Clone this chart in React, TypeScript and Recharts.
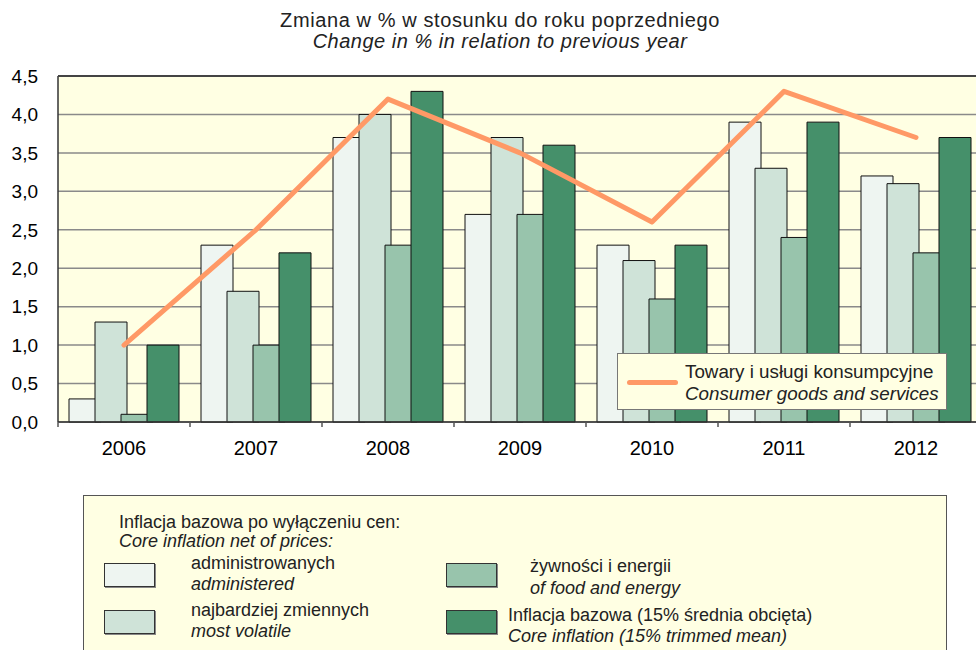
import React from 'react';
import { ComposedChart, Bar, Line, XAxis, YAxis, CartesianGrid } from 'recharts';

const years = ['2006', '2007', '2008', '2009', '2010', '2011', '2012'];
const administered = [0.3, 2.3, 3.7, 2.7, 2.3, 3.9, 3.2];
const mostVolatile = [1.3, 1.7, 4.0, 3.7, 2.1, 3.3, 3.1];
const foodEnergy = [0.1, 1.0, 2.3, 2.7, 1.6, 2.4, 2.2];
const trimmedMean = [1.0, 2.2, 4.3, 3.6, 2.3, 3.9, 3.7];
const consumer = [1.0, 2.5, 4.2, 3.5, 2.6, 4.3, 3.7];
const yTicks = [0, 0.5, 1, 1.5, 2, 2.5, 3, 3.5, 4, 4.5];

const data = years.map((y, i) => ({
  year: y,
  adm: administered[i],
  vol: mostVolatile[i],
  food: foodEnergy[i],
  core: trimmedMean[i],
  cpi: consumer[i],
}));

const C1 = '#EEF5F1';
const C2 = '#CFE3D8';
const C3 = '#98C4AC';
const C4 = '#45906A';
const ORANGE = '#FF9966';
const BG = '#FFFFE3';
const FONT = '"Liberation Sans", Arial, sans-serif';

const XTick = (props: any) => {
  const { x, y, payload } = props;
  return (
    <g>
      <line x1={x - 66} x2={x - 66} y1={y} y2={y + 5} stroke="#555" strokeWidth={1.5} />
      <text x={x} y={y + 33} textAnchor="middle" fontSize={20} fill="#000" fontFamily={FONT}>
        {payload.value}
      </text>
    </g>
  );
};

const Swatch = ({ left, top, color }: { left: number; top: number; color: string }) => (
  <div
    style={{
      position: 'absolute',
      left,
      top,
      width: 51,
      height: 24,
      background: color,
      border: '1px solid #333',
      boxSizing: 'border-box',
      boxShadow: '1px 1px 0 #888',
    }}
  />
);

const Txt = ({ left, cy, children, italic, size = 18 }: any) => (
  <div
    style={{
      position: 'absolute',
      left,
      top: cy - 12,
      fontSize: size,
      lineHeight: '24px',
      fontFamily: FONT,
      fontStyle: italic ? 'italic' : 'normal',
      color: '#222',
      whiteSpace: 'nowrap',
    }}
  >
    {children}
  </div>
);

export default function App() {
  return (
    <div
      style={{
        position: 'absolute',
        left: 0,
        top: 0,
        width: 976,
        height: 650,
        overflow: 'hidden',
        background: '#fff',
        fontFamily: FONT,
      }}
    >
      <div style={{ position: 'absolute', left: 12, top: 19.5 - 12, width: 976, textAlign: 'center', fontSize: 20, lineHeight: '24px', letterSpacing: 0.6, color: '#222' }}>
        Zmiana w % w stosunku do roku poprzedniego
      </div>
      <div style={{ position: 'absolute', left: 12, top: 41 - 12, width: 976, textAlign: 'center', fontSize: 20, lineHeight: '24px', letterSpacing: 0.5, fontStyle: 'italic', color: '#222' }}>
        Change in % in relation to previous year
      </div>

      <div style={{ position: 'absolute', left: 0, top: 0 }}>
        <ComposedChart
          width={990}
          height={470}
          data={data}
          margin={{ top: 76, right: 8, left: 0, bottom: 0 }}
          barSize={32}
          barGap={-6}
        >
          <CartesianGrid horizontal vertical={false} fill={BG} stroke="#8a8a8a" strokeWidth={1.5} />
          <XAxis
            dataKey="year"
            axisLine={{ stroke: '#333', strokeWidth: 1.5 }}
            tickLine={false}
            tickSize={0}
            tickMargin={0}
            height={48}
            tick={<XTick />}
            interval={0}
          />
          <YAxis
            domain={[0, 4.5]}
            ticks={yTicks}
            width={58}
            axisLine={{ stroke: '#333', strokeWidth: 1.5 }}
            tickLine={false}
            tickSize={0}
            tickMargin={20}
            tickFormatter={(v: number) => v.toFixed(1).replace('.', ',')}
            tick={{ fontSize: 19, fill: '#000', fontFamily: FONT }}
          />
          <Bar dataKey="adm" fill={C1} stroke="#111" strokeWidth={1} isAnimationActive={false} />
          <Bar dataKey="vol" fill={C2} stroke="#111" strokeWidth={1} isAnimationActive={false} />
          <Bar dataKey="food" fill={C3} stroke="#111" strokeWidth={1} isAnimationActive={false} />
          <Bar dataKey="core" fill={C4} stroke="#111" strokeWidth={1} isAnimationActive={false} />
          <Line
            dataKey="cpi"
            type="linear"
            stroke={ORANGE}
            strokeWidth={5}
            dot={false}
            activeDot={false}
            strokeLinecap="round"
            strokeLinejoin="round"
            isAnimationActive={false}
          />
        </ComposedChart>
      </div>
      {/* top border of plot */}
      <div style={{ position: 'absolute', left: 58, top: 75, width: 930, height: 2, background: '#444' }} />

      {/* line legend */}
      <div
        style={{
          position: 'absolute',
          left: 617,
          top: 353,
          width: 330,
          height: 57,
          background: BG,
          border: '1.5px solid #777',
          boxSizing: 'border-box',
        }}
      />
      <div style={{ position: 'absolute', left: 627, top: 380, width: 51, height: 5, borderRadius: 3, background: ORANGE }} />
      <Txt left={685} cy={372} size={18.8}>Towary i usługi konsumpcyjne</Txt>
      <Txt left={685} cy={394} size={18.8} italic>Consumer goods and services</Txt>

      {/* bottom legend */}
      <div
        style={{
          position: 'absolute',
          left: 83,
          top: 495,
          width: 864,
          height: 180,
          background: BG,
          border: '1.5px solid #555',
          boxSizing: 'border-box',
        }}
      />
      <Txt left={119} cy={522}>Inflacja bazowa po wyłączeniu cen:</Txt>
      <Txt left={119} cy={541} italic>Core inflation net of prices:</Txt>
      <Swatch left={104} top={563} color={C1} />
      <Txt left={191} cy={563}>administrowanych</Txt>
      <Txt left={191} cy={584} italic>administered</Txt>
      <Swatch left={104} top={610} color={C2} />
      <Txt left={191} cy={610}>najbardziej zmiennych</Txt>
      <Txt left={191} cy={631} italic>most volatile</Txt>
      <Swatch left={446} top={563} color={C3} />
      <Txt left={530} cy={566}>żywności i energii</Txt>
      <Txt left={530} cy={588} italic>of food and energy</Txt>
      <Swatch left={446} top={610} color={C4} />
      <Txt left={508} cy={615}>Inflacja bazowa (15% średnia obcięta)</Txt>
      <Txt left={508} cy={636} italic>Core inflation (15% trimmed mean)</Txt>
    </div>
  );
}
